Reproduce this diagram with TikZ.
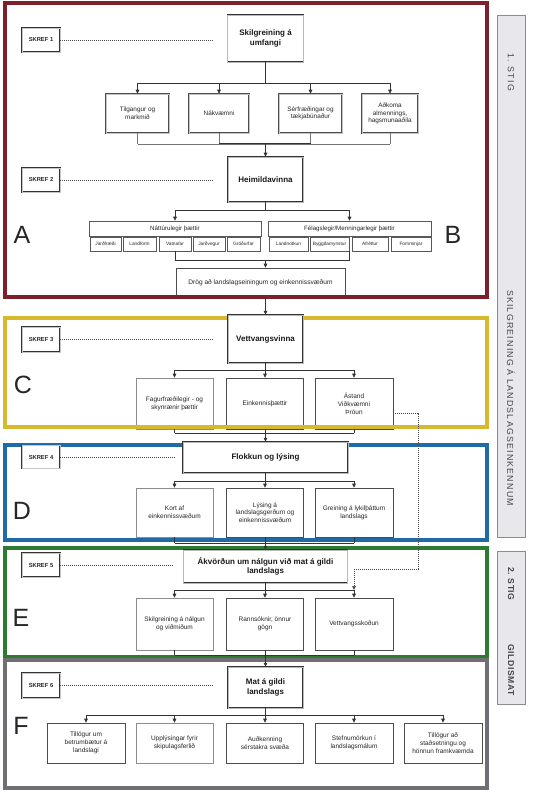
\documentclass[tikz,border=0pt]{standalone}
\usepackage{fontspec}
\setmainfont{Liberation Sans}
\usetikzlibrary{arrows.meta}
\definecolor{fA}{HTML}{7E1F2C}
\definecolor{fC}{HTML}{D8B92E}
\definecolor{fD}{HTML}{1F6BA8}
\definecolor{fE}{HTML}{2F7A33}
\definecolor{fF}{HTML}{6F6F74}
\definecolor{panelfill}{HTML}{E8E8EC}
\definecolor{paneltext}{HTML}{45454A}
\begin{document}
\begin{tikzpicture}[x=1pt,y=-1pt,
  sz/.style 2 args={minimum width=#1pt,minimum height=#2pt},
  ln/.style={draw=black!80, line width=0.6pt},
  lnthin/.style={draw=black!55, line width=0.5pt},
  arr/.style={ln, -{Triangle[length=4pt,width=3.6pt]}},
  dl/.style={draw=black!70, line width=0.4pt, dash pattern=on 1.2pt off 0.8pt},
  dt/.style={draw=black!70, line width=0.5pt, dash pattern=on 0.8pt off 1.2pt},
  frame/.style={line width=3.5pt},
  stepbox/.style={draw=black!80, line width=0.5pt, double=gray!55, double distance=0.9pt, fill=white, align=center, inner sep=1pt, font=\bfseries\fontsize{8}{9.4}\selectfont, text=black!90},
  skref/.style={draw=black!80, line width=0.5pt, double=gray!45, double distance=0.6pt, fill=white, inner sep=1pt, sz={38}{24}, font=\bfseries\fontsize{5.8}{6}\selectfont, text=black!85},
  mbox/.style={draw=black!70, line width=0.5pt, double=gray!45, double distance=0.8pt, fill=white, align=center, inner sep=1pt, font=\fontsize{6.4}{7.6}\selectfont, text=black!85},
  lbox/.style={draw=black!70, line width=0.6pt, fill=white, align=center, inner sep=1pt, font=\fontsize{6.5}{7.8}\selectfont, text=black!85},
  hbox/.style={draw=black!65, line width=0.5pt, fill=white, align=center, inner sep=1pt, font=\fontsize{6.2}{7}\selectfont, text=black!85},
  subbox/.style={draw=black!65, line width=0.5pt, fill=white, align=center, inner sep=0.5pt, font=\fontsize{4.8}{5}\selectfont, text=black!85},
  letter/.style={font=\fontsize{25}{25}\selectfont, text=black!85},
  panel/.style={draw=black!45, line width=0.7pt, fill=panelfill},
  ptext/.style={rotate=-90, font=\fontsize{8.8}{9}\selectfont\addfontfeatures{LetterSpace=14}, text=paneltext},
  ptextb/.style={rotate=-90, font=\bfseries\fontsize{8.6}{9}\selectfont\addfontfeatures{LetterSpace=6}, text=paneltext}
]
\useasboundingbox (0,0) rectangle (535,794);
\fill[white] (0,0) rectangle (535,794);

% ---------- lower (non-step) boxes ----------
% A
\node[mbox, sz={63}{39}] (a1) at (137.5,113.5) {Tilgangur og\\markmið};
\node[mbox, sz={60}{39}] (a2) at (219,113.5) {Nákvæmni};
\node[mbox, sz={63}{39}] (a3) at (310.5,113.5) {Sérfræðingar og\\tækjabúnaður};
\node[mbox, sz={56}{39}] (a4) at (390,113.5) {Aðkoma\\almennings,\\hagsmunaaðila};
\node[hbox, sz={172}{15}] (nat) at (175,228.5) {Náttúrulegir þættir};
\node[subbox, sz={31}{14}] (n1) at (105.5,244) {Jarðfræði};
\node[subbox, sz={33}{14}] (n2) at (139.5,244) {Landform};
\node[subbox, sz={32}{14}] (n3) at (175,244) {Vatnafar};
\node[subbox, sz={32}{14}] (n4) at (209,244) {Jarðvegur};
\node[subbox, sz={33}{14}] (n5) at (243.5,244) {Gróðurfar};
\node[hbox, sz={163}{15}] (fel) at (349.5,228.5) {Félagslegir/Menningarlegir þættir};
\node[subbox, sz={39}{14}] (m1) at (288.5,244) {Landnotkun};
\node[subbox, sz={39}{14}] (m2) at (329.5,244) {Byggðamynstur};
\node[subbox, sz={36}{14}] (m3) at (370,244) {Afréttur};
\node[subbox, sz={40}{14}] (m4) at (411,244) {Fornminjar};
\node[lbox, sz={169}{29}, font=\fontsize{6.6}{7.6}\selectfont] (drog) at (260.5,282.5) {Drög að landslagseiningum og einkennissvæðum};
% C
\node[lbox, sz={77}{51}, draw=black!45] (c1) at (174.5,403.5) {Fagurfræðilegir - og\\skynrænir þættir};
\node[lbox, sz={77}{51}] (c2) at (265,403.5) {Einkennisþættir};
\node[lbox, sz={78}{51}] (c3) at (354,403.5) {Ástand\\Viðkvæmni\\Þróun};
% D
\node[lbox, sz={77}{49}, draw=black!45] (d1) at (174.5,512.5) {Kort af\\einkennissvæðum};
\node[lbox, sz={77}{49}] (d2) at (265,512.5) {Lýsing á\\landslagsgerðum og\\einkennissvæðum};
\node[lbox, sz={78}{49}] (d3) at (354,512.5) {Greining á lykilþáttum\\landslags};
% E
\node[lbox, sz={77}{52}, draw=black!45] (e1) at (174.5,624) {Skilgreining á nálgun\\og viðmiðum};
\node[lbox, sz={77}{52}] (e2) at (265,624) {Rannsóknir, önnur\\gögn};
\node[lbox, sz={78}{52}] (e3) at (354,624) {Vettvangsskoðun};
% F
\node[lbox, sz={78}{40}] (f1) at (86,743) {Tillögur um\\betrumbætur á\\landslagi};
\node[lbox, sz={77}{40}, draw=black!45] (f2) at (174.5,743) {Upplýsingar fyrir\\skipulagsferlið};
\node[lbox, sz={77}{40}] (f3) at (265,743) {Auðkenning\\sérstakra svæða};
\node[lbox, sz={78}{40}] (f4) at (354,743) {Stefnumörkun í\\landslagsmálum};
\node[lbox, sz={78}{40}] (f5) at (443,743) {Tillögur að\\staðsetningu og\\hönnun framkvæmda};

% ---------- frames ----------
\draw[frame, fA] (5,3) rectangle (487,297);
\draw[frame, fC] (5,318) rectangle (487,427);
\draw[frame, fD] (5,445) rectangle (487,540);
\draw[frame, fE] (5,548) rectangle (487,657);
\draw[frame, fF] (5,660) rectangle (487,788);

% ---------- step boxes ----------
\node[stepbox, sz={76}{47}] (s1) at (265.5,38.5) {Skilgreining á\\umfangi};
\node[stepbox, sz={75}{45}] (s2) at (265.5,179.5) {Heimildavinna};
\node[stepbox, sz={75}{48}] (s3) at (265.5,339) {Vettvangsvinna};
\node[stepbox, sz={165}{31}] (s4) at (265.5,457.5) {Flokkun og lýsing};
\node[stepbox, sz={164}{33}] (s5) at (265.5,566.5) {Ákvörðun um nálgun við mat á gildi\\landslags};
\node[stepbox, sz={75}{41}] (s6) at (265.5,687.5) {Mat á gildi\\landslags};

\node[skref] (k1) at (41,40) {SKREF 1};
\node[skref] (k2) at (41,180) {SKREF 2};
\node[skref, sz={38}{25}] (k3) at (41,339.5) {SKREF 3};
\node[skref, sz={38}{23}] (k4) at (41,457) {SKREF 4};
\node[skref] (k5) at (41,565) {SKREF 5};
\node[skref, sz={38}{25}] (k6) at (41,685.5) {SKREF 6};

\coordinate (q1) at (213,40);
\coordinate (q2) at (213,180);
\coordinate (q3) at (213,339.5);
\coordinate (q4) at (175,457);
\coordinate (q5) at (174,565);
\coordinate (q6) at (213,685.5);
\draw[dl] (k1.east) -- (q1);
\draw[dl] (k2.east) -- (q2);
\draw[dl] (k3.east) -- (q3);
\draw[dl] (k4.east) -- (q4);
\draw[dl] (k5.east) -- (q5);
\draw[dl] (k6.east) -- (q6);

% ---------- connectors ----------
% A
\coordinate (b1) at (265.5,83);
\draw[ln] (s1.south) -- (b1);
\draw[ln] (a1.north |- b1) -- (a4.north |- b1);
\foreach \n in {a1,a2,a3,a4} \draw[arr] (\n.north |- b1) -- (\n.north);
\coordinate (b2) at (265.5,144);
\foreach \n in {a1,a2,a3,a4} \draw[lnthin] (\n.south) -- (\n.south |- b2);
\draw[lnthin] (a1.south |- b2) -- (a4.south |- b2);
\draw[ln, line width=1pt] (a2.south |- b2) -- (a3.south |- b2);
\draw[arr] (b2) -- (s2.north);
\coordinate (b3) at (265.5,210);
\draw[ln] (s2.south) -- (b3);
\draw[ln] (nat.north |- b3) -- (fel.north |- b3);
\draw[arr] (nat.north |- b3) -- (nat.north);
\draw[arr] (fel.north |- b3) -- (fel.north);
\coordinate (b4) at (265.5,260);
\draw[ln] (n3.south) -- (n3.south |- b4) -- (fel.south |- b4) -- (fel.south |- m1.south);
\draw[arr] (b4) -- (b4 |- drog.north);
\draw[arr] (b4 |- drog.south) -- (s3.north);
% C
\coordinate (b5) at (265.5,370);
\draw[ln] (s3.south) -- (b5);
\draw[ln] (c1.north |- b5) -- (c3.north |- b5);
\foreach \n in {c1,c2,c3} \draw[arr] (\n.north |- b5) -- (\n.north);
\coordinate (b6) at (265.5,433);
\foreach \n in {c1,c2,c3} \draw[ln] (\n.south) -- (\n.south |- b6);
\draw[ln] (c1.south |- b6) -- (c3.south |- b6);
\draw[arr] (b6) -- (s4.north);
% dotted link from Ástand to E
\coordinate (dA) at (418,413);
\coordinate (dC) at (418,569);
\draw[dt] (c3.east |- dA) -- (dA) -- (dC) -- (e3.north |- dC);
% D
\coordinate (b7) at (265.5,481);
\draw[ln] (s4.south) -- (b7);
\draw[ln] (d1.north |- b7) -- (d3.north |- b7);
\foreach \n in {d1,d2,d3} \draw[arr] (\n.north |- b7) -- (\n.north);
\coordinate (b8) at (265.5,543);
\foreach \n in {d1,d2,d3} \draw[ln] (\n.south) -- (\n.south |- b8);
\draw[ln] (d1.south |- b8) -- (d3.south |- b8);
\draw[arr] (b8) -- (s5.north);
% E
\coordinate (b9) at (265.5,590);
\draw[ln] (s5.south) -- (b9);
\draw[ln] (e1.north |- b9) -- (e3.north |- b9);
\draw[arr, dt] (e3.north |- dC) -- (e3.north |- b9);
\foreach \n in {e1,e2,e3} \draw[arr] (\n.north |- b9) -- (\n.north);
\coordinate (b10) at (265.5,655);
\foreach \n in {e1,e2,e3} \draw[ln] (\n.south) -- (\n.south |- b10);
\draw[ln] (e1.south |- b10) -- (e3.south |- b10);
\draw[arr] (b10) -- (s6.north);
% F
\coordinate (b11) at (265.5,715);
\draw[ln] (s6.south) -- (b11);
\draw[ln] (f1.north |- b11) -- (f5.north |- b11);
\foreach \n in {f1,f2,f3,f4,f5} \draw[arr] (\n.north |- b11) -- (\n.north);

% ---------- letters ----------
\node[letter] (LA) at (22,235) {A};
\node[letter] (LB) at (453,235) {B};
\node[letter] (LC) at (23,385) {C};
\node[letter] (LD) at (22,511) {D};
\node[letter] (LE) at (21,618) {E};
\node[letter] (LF) at (21,726) {F};

% ---------- side panels ----------
\draw[panel] (497,15) rectangle (525,537);
\draw[panel] (497,551) rectangle (525,704);
\node[ptext] (p1) at (511,72) {1. STIG};
\node[ptext] (p2) at (511,398) {SKILGREINING Á LANDSLAGSEINKENNUM};
\node[ptextb] (p3) at (511,584) {2. STIG};
\node[ptextb] (p4) at (511,670) {GILDISMAT};
\end{tikzpicture}
\end{document}
